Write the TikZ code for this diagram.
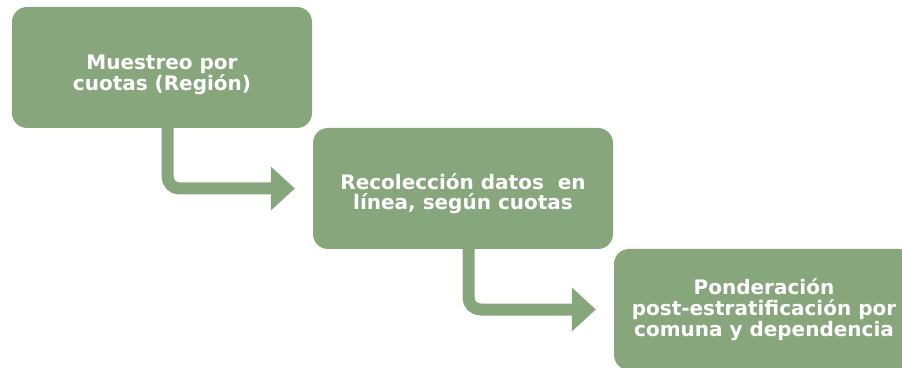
\documentclass[tikz,border=0pt]{standalone}
\usepackage{fontspec}
\setmainfont{DejaVu Sans}
\usepackage{tikz}
\usetikzlibrary{arrows.meta}
\definecolor{paso}{RGB}{135,166,124}
\newcommand\pasofuente{\bfseries\fontsize{20}{20.7}\selectfont\lineskiplimit-30pt\relax}

\begin{document}
\begin{tikzpicture}[x=1pt,y=1pt,
    etapa/.style={fill=paso, rounded corners=15pt, minimum width=300pt, minimum height=121pt, text=white, align=center, font=\pasofuente},
    baja/.style={paso, line width=12pt, rounded corners=12pt, -{Triangle[length=24pt,width=44pt,line width=0pt]}}]
    \clip (0,0) rectangle (902,367);
    \node[etapa, text height=51pt, text depth=5pt] (cuotas) at (162,299.5) {Muestreo por\\cuotas (Región)};
    \node[etapa, text height=48pt, text depth=5pt] (datos) at (463,178.5) {Recolección datos\ \ en\\línea, según cuotas};
    \node[etapa] (ponderacion) at (764,57.5) {Ponderación\\post-estratificación por\\comuna y dependencia};
    \draw[baja] ([xshift=5.5pt]cuotas.south) |- ([xshift=-18pt]datos.west);
    \draw[baja] ([xshift=5.5pt]datos.south) |- ([xshift=-18pt]ponderacion.west);
\end{tikzpicture}
\end{document}
